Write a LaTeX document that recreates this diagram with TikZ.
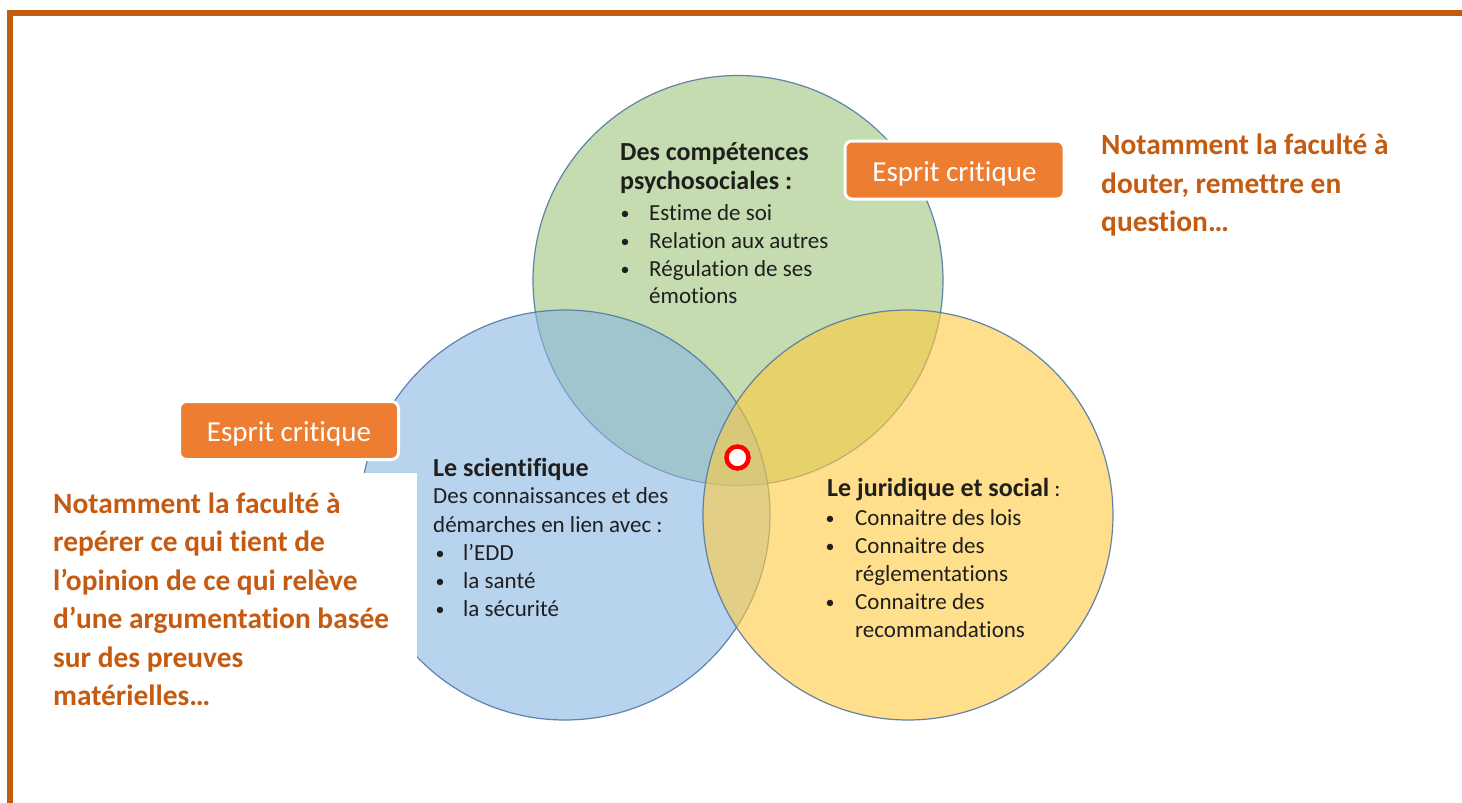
\documentclass[tikz,border=0pt]{standalone}
\usepackage{fontspec}
\setmainfont{Carlito}[Ligatures={NoCommon}]
\definecolor{rust}{RGB}{197,90,17}
\definecolor{borange}{RGB}{237,125,49}
\definecolor{cgreen}{RGB}{157,198,123}
\definecolor{cblue}{RGB}{138,182,225}
\definecolor{cyellow}{RGB}{255,203,63}
\definecolor{cedge}{RGB}{84,120,165}
\begin{document}
\begin{tikzpicture}[x=1pt,y=-1pt,
  venn/.style={circle, draw=cedge, line width=1.2pt, fill opacity=0.6, draw opacity=0.9, minimum size=410pt, inner sep=0pt},
  txt/.style={anchor=base west, inner sep=0pt, font=\fontsize{23}{28}\selectfont, text=black!88},
  btxt/.style={txt, font=\fontsize{26}{30}\selectfont\bfseries},
  bul/.style={anchor=base, inner sep=0pt, font=\fontsize{18}{28}\selectfont, text=black!88},
  note/.style={anchor=base west, inner sep=0pt, font=\fontsize{29.4}{38}\selectfont\bfseries, text=rust},
  tag/.style={fill=borange, draw=white, line width=3pt, rounded corners=7pt, text=white,
    font=\fontsize{29}{35}\selectfont, minimum width=219pt, minimum height=58pt,
    text height=24pt, text depth=1.6pt, inner sep=0pt},
]
\useasboundingbox (0,0) rectangle (1462,803);
\fill[white] (0,0) rectangle (1462,803);
\draw[rust, line width=6pt] (10.3,803) -- (10.3,12.5) -- (1462,12.5);

% circles
\node[venn, fill=cgreen] (green) at (738,280.5) {};
\node[venn, fill=cblue] (blue) at (565,515) {};
\node[venn, fill=cyellow] (yellow) at (908,515) {};

% white panel behind left note
\fill[white] (30,473) rectangle (417,760);

% marker
\node[circle, draw=red, line width=4.5pt, fill=white, minimum size=22pt, inner sep=0pt] (mark) at (737.5,457.5) {};

% tags
\node[tag] (tagL) at (289,430.5) {Esprit critique};
\node[tag] (tagR) at (954.5,170) {Esprit critique};

% green text
\node[btxt] (g1) at (620,160) {Des compétences};
\node[btxt] (g2) at (620,189) {psychosociales :};
\node[bul] (gb1) at (625,219) {•};
\node[txt] (g3) at (649,220) {Estime de soi};
\node[bul] (gb2) at (625,247) {•};
\node[txt] (g4) at (649,248) {Relation aux autres};
\node[bul] (gb3) at (625,275) {•};
\node[txt] (g5) at (649,276) {Régulation de ses};
\node[txt] (g6) at (649,303) {émotions};

% blue text
\node[btxt] (b1) at (433,476) {Le scientifique};
\node[txt] (b2) at (433,503) {Des connaissances et des};
\node[txt] (b3) at (433,532) {démarches en lien avec :};
\node[bul] (bb1) at (440,559) {•};
\node[txt] (b4) at (463,560) {l’EDD};
\node[bul] (bb2) at (440,587) {•};
\node[txt] (b5) at (463,588) {la santé};
\node[bul] (bb3) at (440,615) {•};
\node[txt] (b6) at (463,616) {la sécurité};

% yellow text
\node[txt] (y1) at (827,496) {{\fontsize{26}{30}\selectfont\bfseries Le juridique et social} :};
\node[bul] (yb1) at (830,524) {•};
\node[txt] (y2) at (855,525) {Connaitre des lois};
\node[bul] (yb2) at (830,552) {•};
\node[txt] (y3) at (855,553) {Connaitre des};
\node[txt] (y4) at (855,581) {réglementations};
\node[bul] (yb3) at (830,608) {•};
\node[txt] (y5) at (855,609) {Connaitre des};
\node[txt] (y6) at (855,637) {recommandations};

% right note
\node[note] (r1) at (1101,154.5) {Notamment la faculté à};
\node[note] (r2) at (1101,193) {douter, remettre en};
\node[note] (r3) at (1101,231.5) {question…};

% left note
\node[note] (l1) at (53,513) {Notamment la faculté à};
\node[note] (l2) at (53,551.5) {repérer ce qui tient de};
\node[note] (l3) at (53,590) {l’opinion de ce qui relève};
\node[note] (l4) at (53,628.5) {d’une argumentation basée};
\node[note] (l5) at (53,667) {sur des preuves};
\node[note] (l6) at (53,705.5) {matérielles…};
\end{tikzpicture}
\end{document}
